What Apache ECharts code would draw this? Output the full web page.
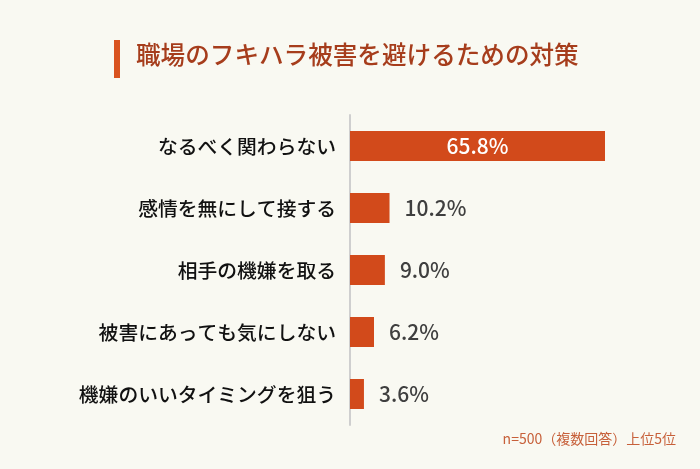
<!DOCTYPE html>
<html lang="ja">
<head>
  <meta charset="UTF-8">
  <title>職場のフキハラ被害を避けるための対策</title>
  <script src="https://cdn.jsdelivr.net/npm/echarts@6/dist/echarts.min.js"></script>
  <style>
    html, body {
      margin: 0;
      padding: 0;
      background: #f9f9f2;
    }
    #chart {
      width: 700px;
      height: 469px;
    }
  </style>
</head>
<body>
  <div id="chart"></div>
  <script>
    // データ
    var categories = ['なるべく関わらない', '感情を無にして接する', '相手の機嫌を取る', '被害にあっても気にしない', '機嫌のいいタイミングを狙う'];
    var values = [65.8, 10.2, 9.0, 6.2, 3.6];
    var titleText = '職場のフキハラ被害を避けるための対策';
    var noteText = 'n=500（複数回答）上位5位';

    var font = '"Noto Sans CJK JP", "Noto Sans", sans-serif';
    var chart = echarts.init(document.getElementById('chart'));

    var seriesData = values.map(function (v, i) {
      var item = { value: v };
      // 一番長い棒はラベルを中に
      if (i === 0) {
        item.label = { position: 'inside', color: '#ffffff' };
      }
      return item;
    });

    var option = {
      backgroundColor: '#f9f9f2',
      textStyle: { fontFamily: font },
      graphic: [
        {
          type: 'rect',
          left: 114, top: 40,
          shape: { width: 6, height: 38 },
          style: { fill: '#d9531f' }
        },
        {
          type: 'text',
          left: 136, top: 42,
          style: {
            text: titleText,
            font: '500 24.6px ' + font,
            fill: '#a63d1c'
          }
        },
        {
          type: 'text',
          right: 24, top: 432,
          style: {
            text: noteText,
            font: '14px ' + font,
            fill: '#c7603a'
          }
        }
      ],
      grid: {
        left: 350,
        right: 95,
        top: 115,
        bottom: 44
      },
      xAxis: {
        type: 'value',
        min: 0,
        max: 65.8,
        show: false
      },
      yAxis: {
        type: 'category',
        data: categories,
        inverse: true,
        axisTick: { show: false },
        axisLine: { lineStyle: { color: '#cfcfcf', width: 2 } },
        axisLabel: {
          color: '#111111',
          fontSize: 19.8,
          fontWeight: 500,
          margin: 14,
          fontFamily: font
        }
      },
      series: [{
        type: 'bar',
        data: seriesData,
        barWidth: 30,
        itemStyle: { color: '#d24a1b' },
        label: {
          show: true,
          position: 'right',
          distance: 15,
          color: '#3f3f3f',
          fontSize: 21,
          fontWeight: 500,
          fontFamily: font,
          formatter: function (p) { return p.value.toFixed(1) + '%'; }
        }
      }]
    };
    chart.setOption(option);
  </script>
</body>
</html>
